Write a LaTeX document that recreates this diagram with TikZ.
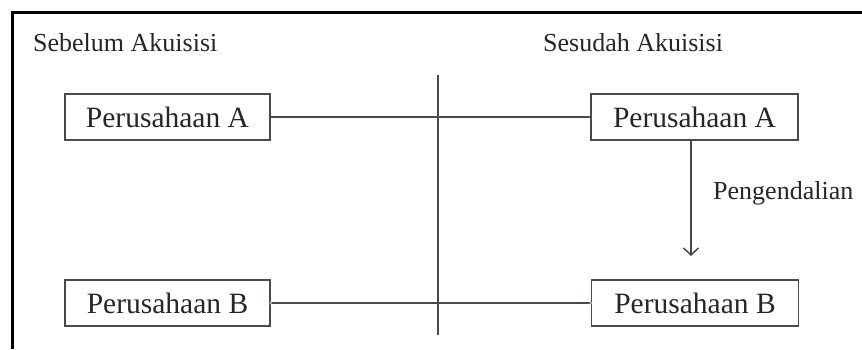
\documentclass[tikz,border=0pt]{standalone}
\usepackage{fontspec}
\setmainfont{Liberation Serif}
\usetikzlibrary{arrows.meta}
\definecolor{ink}{HTML}{262626}
\definecolor{wire}{HTML}{4A4A4A}
\definecolor{joint}{HTML}{8FA8C8}
\tikzset{
  firm/.style={draw=wire, line width=1.6pt, minimum width=205pt, minimum height=46pt,
    inner sep=0pt, text=ink, font=\fontsize{29.5}{32}\selectfont},
  head/.style={inner sep=0pt, anchor=west, text=ink, font=\fontsize{26}{29}\selectfont},
  link/.style={draw=wire, line width=1.5pt},
}
\begin{document}
\begin{tikzpicture}[x=1pt,y=1pt]
\useasboundingbox (0,0) rectangle (862,349);
% outer frame (top and left edges)
\draw[line width=3pt, black] (12,0) -- (12,336) -- (862,336);

% headings
\node[head] (before) at (33,306) {Sebelum Akuisisi};
\node[head] (after) at (543,306) {Sesudah Akuisisi};

% companies
\node[firm] (aL) at (167.5,232) {Perusahaan A};
\node[firm, minimum width=207pt] (aR) at (694.5,232) {Perusahaan A};
\node[firm] (bL) at (167.5,46) {Perusahaan B};
\node[firm, minimum width=207pt] (bR) at (695,46) {Perusahaan B};

% divider between the two states
\coordinate (divTop) at (438,274);
\coordinate (divBot) at (438,14);
\draw[link] (divTop) -- (divBot);

% connections
\draw[link] (aL.east) -- (aR.west);
\draw[link] (bL.east) -- (bR.west);
\fill[joint] (bL.east) circle (1.6pt);
\fill[joint] (bR.west) circle (1.6pt);

% control arrow
\coordinate (ctrlTip) at (691,93);
\draw[link, -{Straight Barb[length=7pt,width=15pt,line width=1.5pt]}] (aR.south -| ctrlTip) -- (ctrlTip);
\node[head] (ctrl) at (713,156) {Pengendalian};
\end{tikzpicture}
\end{document}
